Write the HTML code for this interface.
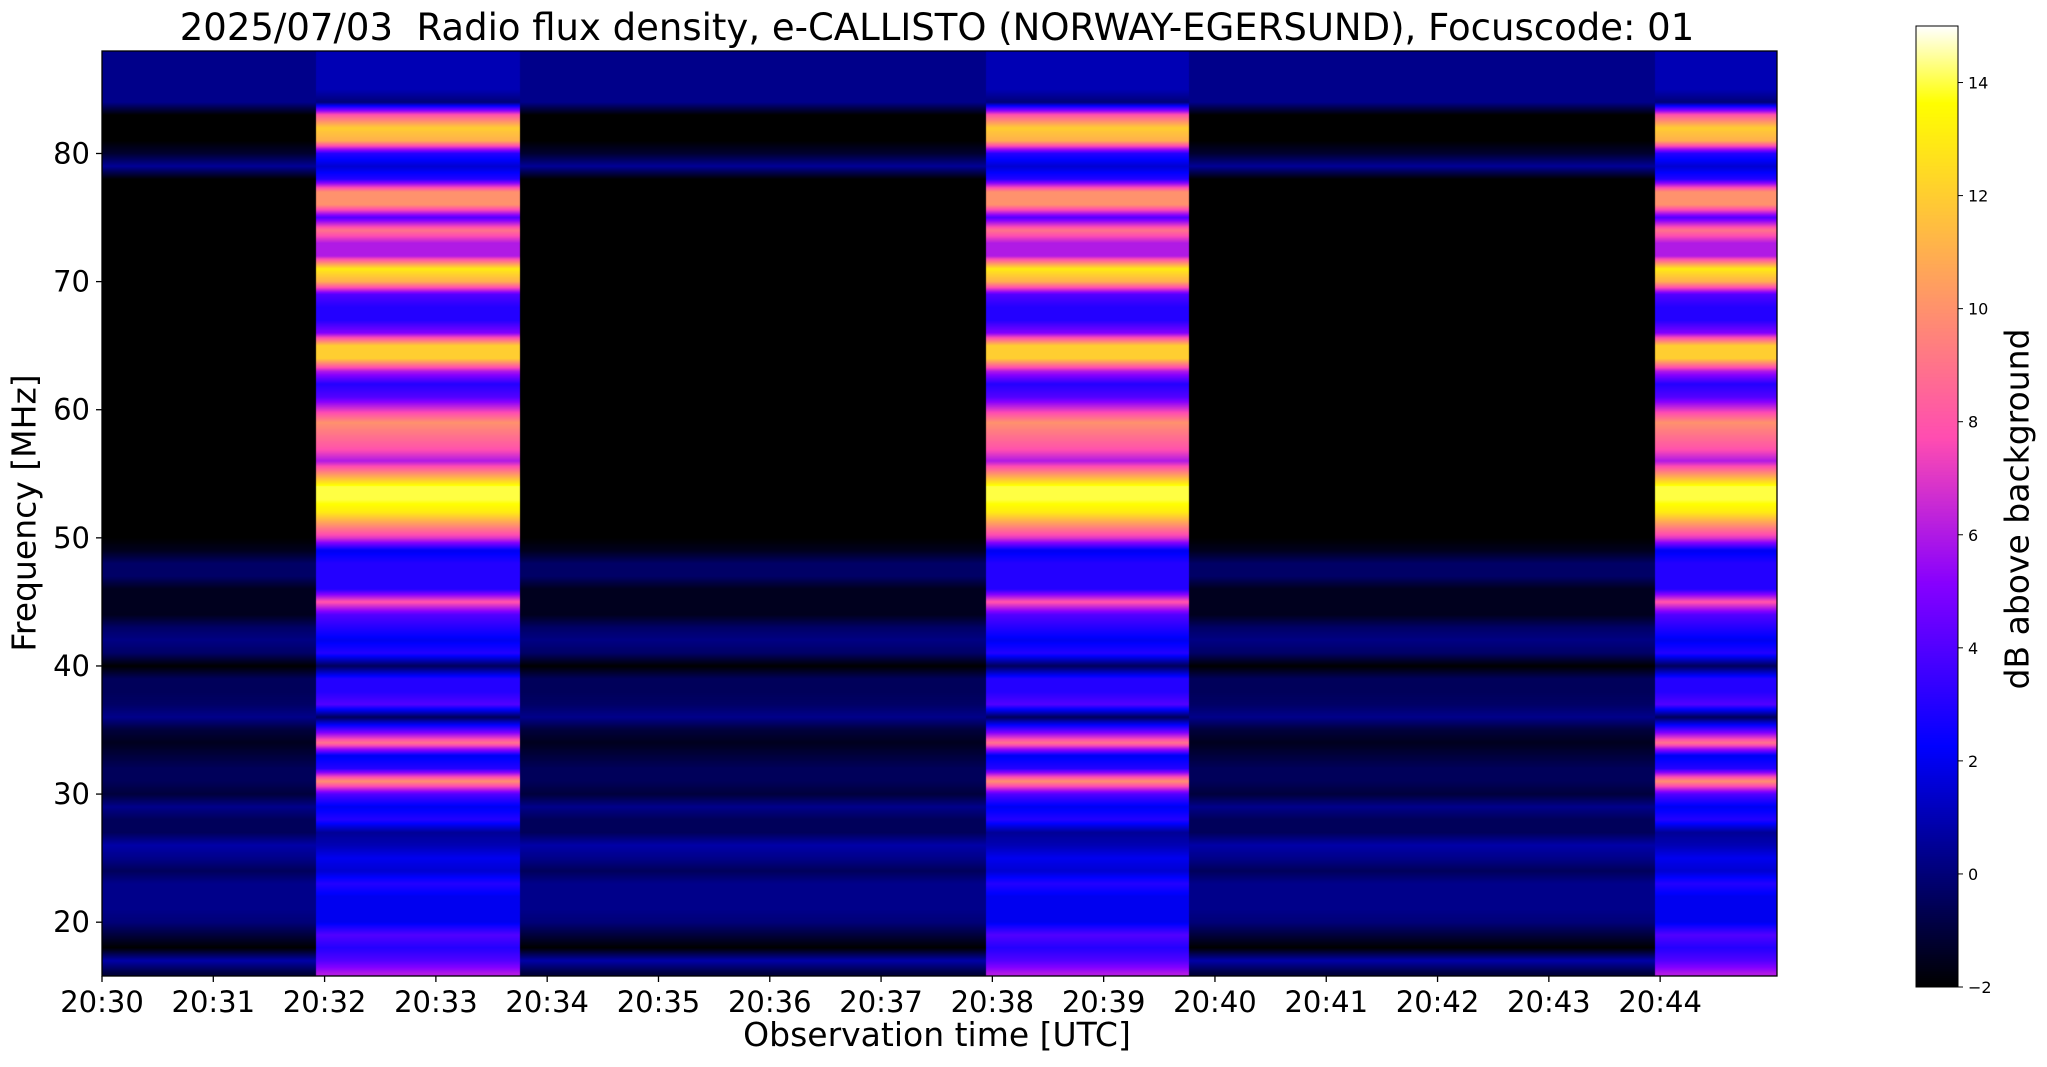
<!DOCTYPE html>
<html><head><meta charset="utf-8"><style>
body{margin:0;background:#fff;width:2047px;height:1067px;overflow:hidden;position:relative;font-family:"DejaVu Sans","Liberation Sans",sans-serif}
.t{position:absolute;white-space:nowrap;color:#000}
</style></head><body>
<div class="t" style="left:937px;top:6px;transform:translateX(-50%);font-size:37px">2025/07/03&nbsp; Radio flux density, e-CALLISTO (NORWAY-EGERSUND), Focuscode: 01</div>
<canvas id="spec" width="1675" height="925" style="position:absolute;left:102px;top:51px"></canvas>
<canvas id="cbar" width="42" height="961" style="position:absolute;left:1916px;top:26px"></canvas>
<svg id="ax" width="2047" height="1067" style="position:absolute;left:0;top:0"></svg>
<div class="t" style="left:937px;top:1015px;transform:translateX(-50%);font-size:33px">Observation time [UTC]</div>
<div class="t" style="left:24px;top:513px;transform:translate(-50%,-50%) rotate(-90deg);font-size:33px">Frequency [MHz]</div>
<div class="t" style="left:2017px;top:509px;transform:translate(-50%,-50%) rotate(-90deg);font-size:33px">dB above background</div>
<script>
const freqs=[];for(let f=16;f<=88;f++)freqs.push(f);
const burstDb=[6,4,3,4,2,2,2,3,1.5,2,1,0.5,3,2,4,10,3,2,9,4,-0.5,4,3,3,-0.5,3,2,3,4,8,3,3,3,2,7,10,13,14,14,10,6,8,9,10,7,4,3,6,12,12,5,3,3,4,11,13,6,6,9,4,10,10,3,1.5,3,11,12,8,0,1,1,1,1];
const quietDb=[-1,0.8,-2,-1,0,0.3,0.3,0.3,-0.5,0.3,0.8,-0.5,-0.5,0.3,-1,-0.5,-0.5,-1,-1.5,-1,0.3,-0.3,-0.5,-0.5,-2,-0.3,0.2,-0.3,-1.5,-1.5,-1.5,-0.3,-0.3,-1.5,-2,-2,-2,-2,-2,-2,-2,-2,-2,-2,-2,-2,-2,-2,-2,-2,-2,-2,-2,-2,-2,-2,-2,-2,-2,-2,-2,-2,-2,0.5,-1.2,-2,-2,-2,0.3,0.3,0.3,0.3,0.3];
const burstStart=[1.92,7.94,13.95];
const burstEnd=[3.76,9.77,15.1];
const xTickLabels=["20:30","20:31","20:32","20:33","20:34","20:35","20:36","20:37","20:38","20:39","20:40","20:41","20:42","20:43","20:44"];
const yTicks=[20,30,40,50,60,70,80];
const cbTicks=[-2,0,2,4,6,8,10,12,14];
const X0=102,X1=1777,Y0=51,Y1=976,TMAX=15.05,FMIN=15.8,FMAX=88.0,VMIN=-2,VMAX=15;
const xs=t=>X0+(t/TMAX)*(X1-X0), ys=f=>Y1-(f-FMIN)/(FMAX-FMIN)*(Y1-Y0);
function cl(v){return Math.max(0,Math.min(1,v))}
function cmap(x){x=cl(x);const r=cl(x/0.32-0.78125),g=cl(2*x-0.84);let b;
 if(x<0.25)b=4*x;else if(x<0.42)b=1;else if(x<0.92)b=-2*x+1.84;else b=x/0.08-11.5;
 return [r*255,g*255,cl(b)*255];}
function interp(arr,f){let i=(f-freqs[0]);if(i<=0)return arr[0];if(i>=arr.length-1)return arr[arr.length-1];const k=Math.floor(i),u=i-k;return arr[k]*(1-u)+arr[k+1]*u;}
const sc=document.getElementById('spec'),ctx=sc.getContext('2d'),W=sc.width,H=sc.height,img=ctx.createImageData(W,H);
const colB=[];for(let x=0;x<W;x++){const t=(x+0.5)/W*TMAX;let b=false;for(let i=0;i<burstStart.length;i++)if(t>=burstStart[i]&&t<burstEnd[i])b=true;colB.push(b);}
for(let y=0;y<H;y++){const f=FMIN+(1-(y+0.5)/H)*(FMAX-FMIN);
 const cb=cmap((interp(burstDb,f)-VMIN)/(VMAX-VMIN)),cq=cmap((interp(quietDb,f)-VMIN)/(VMAX-VMIN));
 for(let x=0;x<W;x++){const c=colB[x]?cb:cq,p=(y*W+x)*4;img.data[p]=c[0];img.data[p+1]=c[1];img.data[p+2]=c[2];img.data[p+3]=255;}}
ctx.putImageData(img,0,0);
const cc=document.getElementById('cbar'),c2=cc.getContext('2d');
for(let y=0;y<cc.height;y++){const c=cmap(1-y/cc.height);c2.fillStyle=`rgb(${c[0]|0},${c[1]|0},${c[2]|0})`;c2.fillRect(0,y,cc.width,1);}
const NS='http://www.w3.org/2000/svg',ax=document.getElementById('ax');
function el(tag,a){const e=document.createElementNS(NS,tag);for(const k in a)e.setAttribute(k,a[k]);ax.appendChild(e);return e;}
const fr=el('rect',{x:X0,y:Y0,width:X1-X0,height:Y1-Y0,fill:'none',stroke:'#000','stroke-width':1.3});


xTickLabels.forEach((l,i)=>{const x=xs(i);
 const tk=el('line',{x1:x,x2:x,y1:Y1,y2:Y1+6,stroke:'#000','stroke-width':1.3});
 
 
 const tx=el('text',{x:x,y:Y1+36,'text-anchor':'middle','font-size':29,'font-family':'DejaVu Sans, Liberation Sans, sans-serif'});tx.textContent=l;
 
 });
yTicks.forEach(v=>{const y=ys(v);
 const tk=el('line',{x1:X0-6,x2:X0,y1:y,y2:y,stroke:'#000','stroke-width':1.3});
 
 
 const tx=el('text',{x:X0-12,y:y+10,'text-anchor':'end','font-size':29,'font-family':'DejaVu Sans, Liberation Sans, sans-serif'});tx.textContent=v;
 
 });
const CB0=26,CB1=987;
const cf=el('rect',{x:1916,y:CB0,width:42,height:CB1-CB0,fill:'none',stroke:'#000','stroke-width':1});


cbTicks.forEach(v=>{const y=CB1-(v-VMIN)/(VMAX-VMIN)*(CB1-CB0);
 const tk=el('line',{x1:1958,x2:1963,y1:y,y2:y,stroke:'#000','stroke-width':1});
 
 
 const tx=el('text',{x:1968,y:y+6,'font-size':16,'font-family':'DejaVu Sans, Liberation Sans, sans-serif'});tx.textContent=v<0?'\u2212'+(-v):v;
 
 });
</script>
</body></html>
